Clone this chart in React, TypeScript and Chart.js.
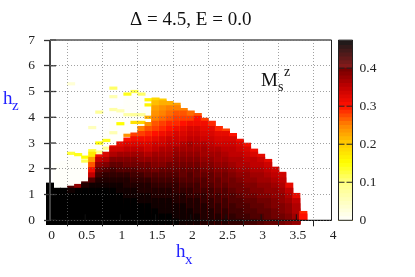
import React, { useEffect, useRef } from "react";
import { Chart, registerables } from "chart.js";

Chart.register(...registerables);

const SERIF = "'Liberation Serif', serif";

const titleText = "Δ = 4.5, E = 0.0";
const xTickLabels: Record<string, string> = { "0": "0", "0.5": "0.5", "1": "1", "1.5": "1.5", "2": "2", "2.5": "2.5", "3": "3", "3.5": "3.5", "4": "4" };

// column centres along h_x
const columnX = [0, .1, .2, .3, .4, .5, .6, .7, .8, .9, 1, 1.1, 1.2, 1.3, 1.4, 1.5, 1.6, 1.7, 1.8, 1.9, 2, 2.1, 2.2, 2.3, 2.4, 2.5, 2.6, 2.7, 2.8, 2.9, 3, 3.1, 3.2, 3.3, 3.4, 3.5, 3.6];
// top edge of every column along h_z
const columnTop = [1.45, 1.25, 1.25, 1.33, 1.4, 1.5, 2.65, 2.55, 2.65, 2.9, 3.05, 3.2, 3.4, 3.65, 3.8, 4.75, 4.72, 4.62, 4.55, 4.35, 4.25, 4.15, 3.97, 3.85, 3.65, 3.55, 3.38, 3.15, 3.0, 2.77, 2.57, 2.37, 2.07, 1.87, 1.45, 1.05, 0.35];
// M in hundredths, one list per column, from the lowest row upward (row height 0.2, first row edge -0.15)
const columnM: (number | null)[][] = [
  [48, 48, 48, 48, 48, 48, 48, 48],
  [48, 48, 48, 48, 48, 48, 48],
  [48, 48, 48, 48, 48, 48, 48],
  [48, 48, 48, 48, 48, 48, 46, 42],
  [48, 48, 48, 48, 48, 48, 47, 38],
  [48, 48, 48, 48, 48, 48, 47, 45, 42],
  [48, 48, 48, 48, 48, 48, 47, 46, 42, 35, 31, 27, 23, 17],
  [48, 48, 48, 48, 48, 47, 47, 46, 45, 43, 41, 38, 35, 31],
  [48, 48, 48, 48, 47, 47, 47, 46, 45, 44, 42, 39, 36, 33],
  [48, 48, 48, 47, 47, 47, 47, 46, 45, 44, 43, 41, 39, 36, 34, 31],
  [48, 48, 47, 47, 47, 47, 46, 46, 45, 44, 42, 41, 39, 37, 34, 32],
  [48, 48, 47, 47, 47, 46, 46, 45, 45, 44, 42, 40, 39, 37, 35, 33, 30],
  [48, 47, 47, 47, 47, 46, 46, 45, 44, 43, 42, 40, 39, 37, 35, 33, 31, 28],
  [47, 47, 47, 47, 46, 46, 45, 45, 44, 43, 41, 40, 38, 37, 35, 33, 31, 28, 25],
  [47, 47, 47, 47, 46, 46, 45, 45, 44, 42, 41, 40, 38, 36, 34, 33, 31, 29, 27, 24],
  [47, 47, 47, 46, 46, 45, 45, 44, 43, 42, 40, 39, 38, 37, 35, 34, 32, 30, 28, 27, 25, 24, 23, 21, 19],
  [47, 47, 46, 46, 46, 45, 45, 44, 43, 42, 41, 39, 38, 37, 36, 34, 33, 31, 29, 28, 26, 25, 24, 22, 20],
  [47, 47, 46, 46, 46, 45, 45, 44, 43, 42, 41, 40, 38, 37, 36, 35, 34, 32, 30, 29, 27, 26, 25, 22],
  [47, 46, 46, 46, 45, 45, 44, 44, 43, 42, 41, 40, 39, 38, 37, 35, 34, 33, 31, 29, 28, 27, 25, 23],
  [46, 46, 46, 46, 45, 45, 44, 43, 42, 41, 41, 40, 39, 38, 37, 36, 34, 33, 32, 30, 28, 27, 25],
  [46, 46, 46, 45, 45, 44, 44, 43, 42, 42, 41, 40, 39, 38, 37, 37, 35, 34, 33, 31, 28, 26],
  [46, 46, 45, 45, 45, 44, 43, 43, 42, 41, 41, 40, 39, 38, 37, 36, 35, 34, 33, 31, 30, 27],
  [45, 45, 45, 45, 44, 44, 43, 42, 42, 41, 40, 39, 38, 37, 37, 36, 34, 33, 32, 31, 28],
  [45, 45, 45, 44, 44, 43, 43, 42, 41, 41, 40, 39, 38, 37, 36, 35, 34, 33, 32, 29],
  [45, 45, 44, 44, 43, 43, 42, 41, 41, 40, 39, 38, 37, 37, 36, 34, 33, 32, 29],
  [45, 44, 44, 43, 43, 42, 42, 41, 40, 40, 39, 38, 37, 36, 35, 34, 33, 32, 28],
  [44, 44, 43, 43, 42, 42, 41, 40, 40, 39, 38, 37, 36, 35, 35, 34, 33, 30],
  [44, 43, 43, 42, 42, 41, 40, 40, 39, 38, 37, 36, 36, 35, 34, 33, 31],
  [43, 43, 42, 42, 41, 40, 40, 39, 38, 38, 37, 36, 35, 34, 33, 31],
  [43, 42, 42, 41, 41, 40, 39, 39, 38, 37, 36, 35, 35, 33, 31],
  [42, 42, 41, 41, 40, 39, 39, 38, 37, 37, 36, 35, 34, 32],
  [41, 41, 41, 40, 40, 39, 38, 38, 37, 36, 35, 34, 32],
  [41, 40, 40, 39, 39, 38, 38, 37, 36, 35, 34, 32],
  [40, 40, 39, 39, 38, 38, 37, 36, 35, 34, 32],
  [39, 39, 38, 38, 37, 36, 35, 32],
  [38, 37, 36, 36, 35, 32],
  [null, 30, 29],
];

// nearly white fringe above the ordered region: column, bottom, top
const fringeX = [.1, .2, .3, .4, .5, .6, .7, .8, .9, 1, 1.1, 1.2, 1.3, 1.4];
const fringeLow = [1.25, 1.25, 1.33, 1.4, 1.5, 2.65, 2.55, 2.65, 2.9, 3.05, 3.2, 3.4, 3.65, 3.8];
const fringeHigh = [2.2, 2.3, 2.5, 2.55, 2.6, 2.9, 3.1, 3.5, 4.3, 4.4, 4.9, 5.0, 4.9, 4.55];

// isolated pale and yellow cells: h_x, h_z, M in hundredths
const speckX = [.3, .3, .4, .5, .5, .6, .7, .7, .8, .8, .9, .9, .9, .9, 1, 1, 1.1, 1.1, 1.1, 1.2, 1.2, 1.2, 1.3, 1.3, 1.3, 1.3, 1.4, 1.4, 1.4, .6, .7];
const speckY = [5.3, 2.6, 2.55, 2.45, 2.3, 2.7, 3, 2.65, 3.1, 2.8, 5.13, 4.8, 4.3, 3.4, 4.25, 3.75, 4.9, 4.1, 3.3, 5, 4.1, 3.8, 4.9, 4.1, 3.8, 3.6, 4.68, 4.48, 4, 3.6, 4.2];
const speckM = [3, 13, 14, 15, 12, 13, 15, 9, 14, 8, 11, 6, 7, 6, 6, 15, 14, 7, 24, 12, 8, 18, 11, 8, 19, 24, 16, 16, 22, 5, 8];

// colourbar levels in hundredths
const barLevels = [0, 1, 2, 3, 4, 5, 6, 7, 8, 9, 10, 11, 12, 13, 14, 15, 16, 17, 18, 19, 20, 21, 22, 23, 24, 25, 26, 27, 28, 29, 30, 31, 32, 33, 34, 35, 36, 37, 38, 39, 40, 41, 42, 43, 44, 45, 46, 47];

const stops: [number, number, number, number][] = [
  [0, 255, 255, 250], [10, 255, 255, 128], [15, 255, 255, 0], [20, 255, 205, 0],
  [25, 255, 130, 0], [30, 255, 16, 0], [35, 192, 0, 0], [40, 112, 0, 0], [47, 0, 0, 0],
];
function colour(v: number, tail = 0): string {
  for (let i = 1; i < stops.length; i++) {
    if (v <= stops[i][0]) {
      const a = stops[i - 1], b = stops[i];
      const t = (v - a[0]) / (b[0] - a[0]);
      const c = [1, 2, 3].map((k) => Math.round(a[k] + (b[k] - a[k]) * t) + (v > 40 ? tail : 0));
      return `rgb(${c[0]},${c[1]},${c[2]})`;
    }
  }
  return tail ? "rgb(30,24,24)" : "rgb(0,0,0)";
}

type Cell = { x: number; y: [number, number]; m: number };
function buildCells(): Cell[] {
  const cells: Cell[] = [];
  fringeX.forEach((x, i) => cells.push({ x, y: [fringeLow[i], fringeHigh[i]], m: 0 }));
  speckX.forEach((x, i) => cells.push({ x, y: [speckY[i] - 0.05, speckY[i] + 0.05], m: speckM[i] }));
  columnX.forEach((x, c) => {
    const list = columnM[c];
    const base = list[0] === null ? 0 : -0.15;
    for (let r = list.length - 1; r >= 0; r--) {
      const m = list[r];
      if (m === null) continue;
      const hi = Math.min(-0.15 + (r + 1) * 0.2, columnTop[c]);
      cells.push({ x, y: [base, r === list.length - 1 ? columnTop[c] : hi], m });
    }
  });
  return cells;
}

const tickFont = { family: SERIF, size: 13.5 };

const framePlugin = {
  id: "frame",
  afterDatasetsDraw(chart: any) {
    const { ctx, chartArea: a, scales } = chart;
    ctx.save();
    const line = (x0: number, y0: number, x1: number, y1: number, col = "#222", w = 1) => {
      ctx.strokeStyle = col;
      ctx.lineWidth = w;
      ctx.beginPath();
      ctx.moveTo(x0, y0);
      ctx.lineTo(x1, y1);
      ctx.stroke();
    };
    if (chart.canvas.dataset.kind === "main") {
      scales.y.ticks.forEach((t: any) => {
        const p = scales.y.getPixelForValue(t.value);
        line(a.left, p, a.left + 6, p, "#333", 1.3);
      });
      scales.x.ticks.forEach((t: any) => {
        const p = scales.x.getPixelForValue(t.value);
        line(p, a.bottom, p, a.bottom - 6, "#111", 1);
      });
      line(a.left, a.top, a.right, a.top, "#555", 1.3);
      line(a.right, a.top, a.right, a.bottom, "#222", 1);
      line(a.left, a.bottom, a.right, a.bottom, "#111", 1.2);
      line(a.left, a.top, a.left, a.bottom, "#444", 2);
      ctx.textBaseline = "alphabetic";
      ctx.textAlign = "left";
      ctx.fillStyle = "#2222ff";
      ctx.font = `19px ${SERIF}`;
      ctx.fillText("h", 176, 257);
      ctx.fillText("h", 3, 104);
      ctx.font = `15px ${SERIF}`;
      ctx.fillText("x", 185, 264);
      ctx.fillText("z", 12, 110);
      ctx.fillStyle = "#111";
      ctx.font = `19px ${SERIF}`;
      ctx.fillText("M", 261, 86);
      ctx.font = `14px ${SERIF}`;
      ctx.fillText("s", 278, 91);
      ctx.fillText("z", 284, 76);
    } else {
      scales.y.ticks.forEach((t: any) => {
        if (t.value === 0 || t.value > 0.45) return;
        const p = scales.y.getPixelForValue(t.value);
        line(a.left, p, a.left + 6, p, "#222", 1);
        line(a.right, p, a.right - 6, p, "#222", 1);
      });
      line(a.left, a.top, a.right, a.top, "#555", 1);
      line(a.left, a.top, a.left, a.bottom, "#222", 1);
      line(a.right, a.top, a.right, a.bottom, "#222", 1);
      line(a.left, a.bottom, a.right, a.bottom, "#222", 1);
    }
    ctx.restore();
  },
};

export default function App() {
  const mainRef = useRef<HTMLCanvasElement>(null);
  const barRef = useRef<HTMLCanvasElement>(null);

  useEffect(() => {
    const cells = buildCells();
    const main = new Chart(mainRef.current!, {
      type: "bar",
      data: {
        datasets: [
          {
            data: cells.map((c) => ({ x: c.x, y: c.y })) as any,
            backgroundColor: cells.map((c) => colour(c.m)),
            barThickness: 7.4,
            borderWidth: 0,
            clip: false as any,
          },
        ],
      },
      options: {
        animation: false,
        responsive: false,
        layout: { padding: { right: 83.5, left: 0, top: 0, bottom: 0 } },
        plugins: {
          legend: { display: false },
          tooltip: { enabled: false },
          title: {
            display: true,
            text: titleText,
            fullSize: false,
            color: "#111",
            font: { family: SERIF, size: 19, weight: "normal" },
            padding: { top: 9, bottom: 8.2 },
          },
        },
        scales: {
          x: {
            type: "linear",
            min: 0,
            max: 4,
            offset: false,
            afterFit: (s: any) => { s.height = 56.7; },
            grid: { z: 1, color: "rgba(110,110,110,0.65)", lineWidth: 1, tickLength: 6, tickColor: "#222", tickBorderDash: [], tickWidth: 1 } as any,
            border: { display: false, dash: [1, 2] },
            ticks: {
              stepSize: 0.5,
              color: "#222",
              font: tickFont,
              padding: 1,
              labelOffset: 1.5,
              maxRotation: 0,
              callback: (v: any) => xTickLabels[String(v)] ?? "",
            },
          },
          y: {
            min: 0,
            max: 7,
            afterFit: (s: any) => { s.width = 50; },
            grid: { z: 1, color: "rgba(110,110,110,0.65)", lineWidth: 1, tickLength: 6, tickColor: "#333", tickBorderDash: [], tickWidth: 1.3 } as any,
            border: { display: false, dash: [1, 2] },
            ticks: { stepSize: 1, color: "#222", font: tickFont, padding: 9 },
          },
        },
      },
      plugins: [framePlugin],
    } as any);

    const bar = new Chart(barRef.current!, {
      type: "bar",
      data: {
        labels: ["M"],
        datasets: barLevels.map((l) => ({
          data: [[0, (l + 1) / 100]] as any,
          backgroundColor: colour(l + 0.5, 26),
          barPercentage: 1,
          categoryPercentage: 1,
          borderWidth: 0,
          grouped: false,
        })),
      },
      options: {
        animation: false,
        responsive: false,
        layout: { padding: { left: 8.5, right: 0, top: 40, bottom: 56.7 } },
        plugins: { legend: { display: false }, tooltip: { enabled: false } },
        scales: {
          x: { display: false },
          y: {
            position: "right",
            min: 0,
            max: 0.474,
            afterFit: (s: any) => { s.width = 62.5; },
            grid: { display: false, drawTicks: false },
            border: { display: false },
            ticks: {
              stepSize: 0.1,
              color: "#222",
              font: tickFont,
              padding: 7,
              callback: (v: any) => (v > 0.45 ? "" : String(Math.round(v * 10) / 10)),
            },
          },
        },
      },
      plugins: [framePlugin],
    } as any);

    return () => {
      main.destroy();
      bar.destroy();
    };
  }, []);

  return (
    <div style={{ position: "fixed", left: 0, top: 0, width: 415, height: 277, background: "#fff", overflow: "hidden" }}>
      <canvas ref={mainRef} data-kind="main" width={415} height={277} style={{ position: "absolute", left: 0, top: 0, width: 415, height: 277 }} />
      <canvas ref={barRef} data-kind="bar" width={85} height={277} style={{ position: "absolute", left: 330, top: 0, width: 85, height: 277 }} />
    </div>
  );
}
